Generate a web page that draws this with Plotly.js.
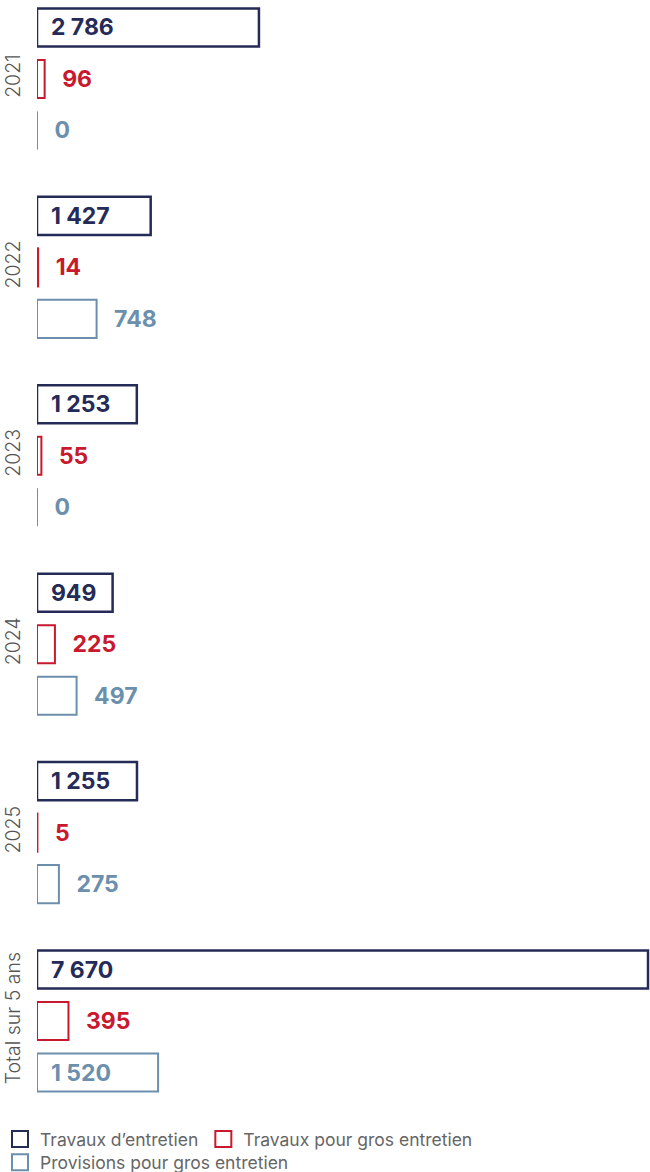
<!DOCTYPE html>
<html>
<head>
<meta charset="utf-8">
<script src="https://cdn.plot.ly/plotly-3.0.1.min.js"></script>
<style>
html,body{margin:0;padding:0;background:#fff;}
#chart{width:650px;height:1172px;}
</style>
</head>
<body>
<div id="chart"></div>
<script>
// Data
var categories = ['2021', '2022', '2023', '2024', '2025', 'Total sur 5 ans'];
var seriesNames = ['Travaux d\u2019entretien', 'Travaux pour gros entretien', 'Provisions pour gros entretien'];
var travauxEntretien = [2786, 1427, 1253, 949, 1255, 7670];
var travauxGrosEntretien = [96, 14, 55, 225, 5, 395];
var provisionsGrosEntretien = [0, 748, 0, 497, 275, 1520];

var colors = ['#252b57', '#c8192e', '#6b8fad'];
var lineWidths = [2.5, 2, 2];
var legendRefs = ['legend', 'legend', 'legend2'];
var seriesValues = [travauxEntretien, travauxGrosEntretien, provisionsGrosEntretien];

var FONT = 'Inter, "Noto Sans", "DejaVu Sans", sans-serif';
var padIn = '\u00a0\u00a0';
var padOut = '\u00a0\u00a0\u2009';

function fmt(v) {
  return String(v).replace(/\B(?=(\d{3})+(?!\d))/g, ' ');
}

var traces = [];
seriesValues.forEach(function (vals, i) {
  var inside = vals.map(function (v) { return v >= 900; });
  traces.push({
    type: 'bar',
    orientation: 'h',
    name: seriesNames[i],
    x: vals,
    y: categories,
    text: vals.map(function (v, j) { return (inside[j] ? padIn : padOut) + fmt(v); }),
    textposition: inside.map(function (f) { return f ? 'inside' : 'outside'; }),
    insidetextanchor: 'start',
    constraintext: 'none',
    cliponaxis: false,
    textfont: {family: FONT, size: 23, color: colors[i], weight: 700},
    insidetextfont: {family: FONT, size: 23, color: colors[i], weight: 700},
    outsidetextfont: {family: FONT, size: 23, color: colors[i], weight: 700},
    marker: {color: '#ffffff', line: {color: colors[i], width: lineWidths[i]}},
    hoverinfo: 'skip',
    showlegend: false
  });
});
// Legend entries
seriesNames.forEach(function (n, i) {
  traces.push({
    type: 'scatter',
    mode: 'markers',
    x: [null],
    y: [null],
    name: n,
    legend: legendRefs[i],
    marker: {symbol: 'square-open', size: 16, color: colors[i], line: {width: 2, color: colors[i]}},
    showlegend: true,
    hoverinfo: 'skip'
  });
});

var legendCommon = {
  orientation: 'h',
  xref: 'container',
  yref: 'container',
  xanchor: 'left',
  yanchor: 'top',
  bgcolor: 'rgba(0,0,0,0)',
  font: {family: FONT, size: 17.5, color: '#666666'},
  itemwidth: 30,
  tracegroupgap: 0
};

var layout = {
  width: 650,
  height: 1172,
  margin: {l: 37, r: 0, t: 0, b: 62},
  paper_bgcolor: '#ffffff',
  plot_bgcolor: '#ffffff',
  barmode: 'group',
  bargap: 0.18,
  bargroupgap: 0.26,
  showlegend: true,
  font: {family: FONT, color: '#555555'},
  xaxis: {
    range: [0, 7695],
    visible: false,
    showgrid: false,
    zeroline: false,
    fixedrange: true
  },
  yaxis: {
    type: 'category',
    range: [5.472, -0.419],
    showgrid: false,
    zeroline: false,
    showline: false,
    ticks: '',
    tickangle: -90,
    ticklabelstandoff: 12,
    tickfont: {family: FONT, size: 19.5, color: '#555555', weight: 300},
    fixedrange: true
  },
  legend: Object.assign({}, legendCommon, {x: -0.0106, y: 0.0435}),
  legend2: Object.assign({}, legendCommon, {x: -0.0106, y: 0.0235})
};

Plotly.newPlot('chart', traces, layout, {displayModeBar: false, staticPlot: true});
</script>
</body>
</html>
